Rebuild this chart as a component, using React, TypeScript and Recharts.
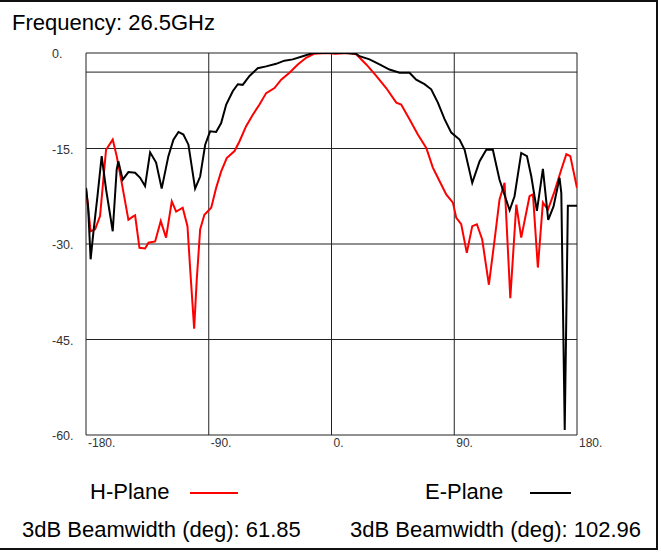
import React from 'react';
import {
  LineChart,
  Line,
  XAxis,
  YAxis,
  CartesianGrid,
  ReferenceLine,
} from 'recharts';

// H-Plane (red) pattern, angle in deg / level in dB
const hAngles = [
  -180, -176.6, -173.3, -169.7, -165.3, -160.4, -157.5, -153.8, -148.9, -145.7,
  -144, -140.8, -136.7, -134.2, -129.3, -125.2, -121.3, -117.1, -113.9, -109.1,
  -105.6, -103.6, -100.7, -98.8, -96.3, -93.2, -88.2, -84.6, -80.9, -76.8,
  -71.1, -67.5, -62.6, -57.7, -52.8, -47.9, -41.8, -36.9, -30.8, -24.7,
  -18.6, -12.5, -3.9, 3, 12, 18.1, 25.5, 32.8, 40.1, 47.5,
  51.1, 57.2, 63.3, 69.5, 74.3, 79.2, 84.1, 89, 91.5, 95.1,
  99.2, 103.2, 106.6, 110.5, 115.4, 119.6, 123.2, 126.9, 131.1, 135.5,
  139.1, 145.2, 147.7, 151.3, 155, 158.7, 163.6, 168.5, 172.2, 175.1, 180,
];
const hValues = [
  -21.2, -28.0, -27.7, -25.6, -15.2, -13.6, -16.2, -20.4, -26.2, -25.7,
  -25.5, -30.6, -30.7, -29.8, -29.6, -26.4, -29.0, -23.3, -24.9, -24.3,
  -27.2, -34.0, -43.3, -35.6, -27.7, -25.4, -24.3, -21.2, -18.6, -16.5,
  -15.4, -13.9, -11.5, -9.7, -8.1, -6.3, -5.5, -4.2, -3.1, -1.8,
  -0.75, -0.1, 0, -0.1, 0, -0.2, -1.8, -3.6, -5.5, -7.8,
  -8.1, -10.4, -12.8, -14.9, -18.0, -20.1, -22.2, -23.5, -25.9, -26.9,
  -31.4, -27.2, -26.9, -29.3, -36.4, -29.3, -23.0, -20.4, -38.5, -23.8,
  -29.0, -22.5, -22.2, -33.7, -23.5, -24.6, -21.7, -18.3, -15.9, -16.2, -21.2,
];

// E-Plane (black) pattern
const eAngles = [
  -180, -178.5, -176.6, -174.6, -171.6, -168.5, -165.3, -160.4, -157.5, -156.3,
  -153.1, -148.9, -144, -140.3, -136.7, -133, -128.6, -124.5, -119.6, -115.9,
  -112.2, -108.6, -104.9, -100, -96.3, -92.6, -89, -84.6, -80.9, -77.2,
  -72.4, -68.7, -65.1, -60.1, -54.1, -47.9, -40.6, -34.5, -28.4, -21.1,
  -13.7, -5.1, 0, 10, 18, 20.5, 27.9, 35.2, 42.5, 49.9,
  57.2, 62.1, 68.2, 73.1, 78, 82.9, 87.8, 93.9, 97.6, 103.2,
  108.6, 113.5, 118.3, 123.2, 130.6, 134.2, 139.1, 143.3, 146.5, 150.6,
  155, 158.9, 162.8, 167.2, 168.5, 171, 173.3, 180,
];
const eValues = [
  -21.2, -24, -32.4, -28.2, -22.5, -16.2, -21.4, -28.0, -18.3, -17.0,
  -19.9, -18.7, -18.8, -19.6, -20.9, -15.6, -17.2, -21.3, -16.2, -13.6,
  -12.4, -12.8, -14.4, -21.3, -19.4, -14.4, -12.3, -12.4, -11.0, -8.1,
  -6.0, -4.9, -5.0, -3.6, -2.4, -2.1, -1.7, -1.2, -1.0, -0.5,
  0, 0, 0, 0, -0.1, -0.5, -1.0, -1.8, -2.6, -3.1,
  -3.1, -4.2, -4.9, -5.7, -7.8, -10.4, -12.5, -13.6, -15.2, -20.4,
  -17.0, -15.2, -15.2, -19.9, -24.7, -22.5, -15.7, -16.2, -19.4, -24.8,
  -18.2, -26.2, -24.1, -19.6, -22.0, -59.2, -24.0, -24.0,
];

const xTicks = [-180, -90, 0, 90, 180];
const yTicks = [0, -15, -30, -45, -60];
const beamLine = -3;

const hData = hAngles.map((a, i) => ({ angle: a, h: hValues[i] }));
const eData = eAngles.map((a, i) => ({ angle: a, e: eValues[i] }));

const font = 'Arial, "Liberation Sans", sans-serif';

const XTick = (props: any) => {
  const { x, y, payload } = props;
  return (
    <text x={x + 2} y={y + 4} textAnchor="start" fontSize={12} fill="#333" fontFamily={font}>
      {payload.value}.
    </text>
  );
};

const YTick = (props: any) => {
  const { y, payload } = props;
  return (
    <text x={52} y={y + 5} textAnchor="start" fontSize={12.5} fill="#333" fontFamily={font}>
      {payload.value}.
    </text>
  );
};

const textStyle: React.CSSProperties = {
  position: 'absolute',
  fontFamily: font,
  fontSize: 22,
  color: '#000',
  whiteSpace: 'nowrap',
  lineHeight: '24px',
};

export default function App() {
  return (
    <div style={{ position: 'absolute', left: 0, top: 0, width: 661, height: 553, background: '#fff', overflow: 'hidden' }}>
      <div
        style={{
          position: 'absolute',
          left: -10,
          top: 0,
          width: 668,
          height: 550,
          boxSizing: 'border-box',
          border: '2px solid #111',
        }}
      />
      <div style={{ ...textStyle, left: 12, top: 11 }}>Frequency: 26.5GHz</div>
      <div style={{ position: 'absolute', left: 0, top: 0 }}>
        <LineChart
          width={661}
          height={553}
          margin={{ top: 53, right: 84, left: 52, bottom: 0 }}
        >
          <CartesianGrid stroke="#222" strokeWidth={1} />
          <XAxis
            dataKey="angle"
            type="number"
            domain={[-180, 180]}
            ticks={xTicks}
            allowDataOverflow
            axisLine={false}
            tickLine={false}
            height={118}
            tick={<XTick />}
          />
          <YAxis
            type="number"
            domain={[-60, 0]}
            ticks={yTicks}
            allowDataOverflow
            axisLine={false}
            tickLine={false}
            width={34}
            tick={<YTick />}
          />
          <ReferenceLine y={beamLine} stroke="#222" strokeWidth={1} />
          <Line
            data={hData}
            dataKey="h"
            type="linear"
            stroke="#ff0000"
            strokeWidth={2}
            dot={false}
            isAnimationActive={false}
          />
          <Line
            data={eData}
            dataKey="e"
            type="linear"
            stroke="#000"
            strokeWidth={2}
            dot={false}
            isAnimationActive={false}
          />
        </LineChart>
      </div>
      <div style={{ ...textStyle, left: 90, top: 480 }}>H-Plane</div>
      <div style={{ position: 'absolute', left: 190, top: 492, width: 48, height: 2, background: '#ff0000' }} />
      <div style={{ ...textStyle, left: 425, top: 480 }}>E-Plane</div>
      <div style={{ position: 'absolute', left: 530, top: 492, width: 41, height: 2, background: '#000' }} />
      <div style={{ ...textStyle, left: 22, top: 518 }}>3dB Beamwidth (deg): 61.85</div>
      <div style={{ ...textStyle, left: 350, top: 518 }}>3dB Beamwidth (deg): 102.96</div>
    </div>
  );
}
